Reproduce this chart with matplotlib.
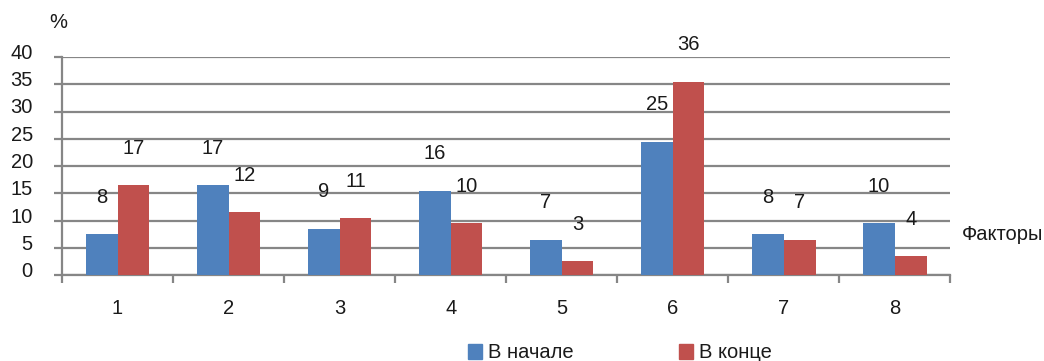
import matplotlib
matplotlib.use("Agg")
import matplotlib.pyplot as plt
import matplotlib.transforms as mtransforms
from matplotlib.patches import Patch
import numpy as np

plt.rcParams['font.family'] = ['Liberation Sans', 'DejaVu Sans']

factors = ['1', '2', '3', '4', '5', '6', '7', '8']
start_vals = [7.5, 16.5, 8.5, 15.5, 6.5, 24.5, 7.5, 9.5]
end_vals = [16.5, 11.5, 10.5, 9.5, 2.5, 35.5, 6.5, 3.5]
start_labels = ['8', '17', '9', '16', '7', '25', '8', '10']
end_labels = ['17', '12', '11', '10', '3', '36', '7', '4']
y_ticks = [0, 5, 10, 15, 20, 25, 30, 35, 40]

blue = '#4f81bd'
red = '#c0504d'
grid_col = '#868686'
txt_col = '#1a1a1a'
fs = 14.5

fig = plt.figure(figsize=(10.44, 3.61), dpi=100)
ax = fig.add_axes([0.0594, 0.238, 0.851, 0.604])

x = np.arange(len(factors))
w = 0.285
b1 = ax.bar(x - w / 2, start_vals, w, color=blue, zorder=3)
b2 = ax.bar(x + w / 2, end_vals, w, color=red, zorder=3)

# value labels float well above each bar
for bars, labs in ((b1, start_labels), (b2, end_labels)):
    for r, lab in zip(bars, labs):
        ax.annotate(lab, (r.get_x() + r.get_width() / 2, r.get_height()),
                    xytext=(0, 26.5), textcoords='offset points',
                    ha='center', va='center', fontsize=fs, color=txt_col)

ax.set_xlim(-0.5, len(factors) - 0.5)
ax.set_ylim(0, 40)
ax.set_yticks(y_ticks)
ax.set_yticklabels([str(t) for t in y_ticks])
ax.yaxis.grid(True, color=grid_col, linewidth=1.6, zorder=0)
ax.set_axisbelow(True)

ax.set_xticks(x)
ax.set_xticklabels(factors)
ax.set_xticks(np.arange(len(factors) + 1) - 0.5, minor=True)
ax.tick_params(axis='x', which='major', length=0, pad=17, labelsize=fs, labelcolor=txt_col)
ax.tick_params(axis='x', which='minor', length=6, width=1.6, color=grid_col, direction='out')
ax.tick_params(axis='y', length=6, width=1.6, color=grid_col, pad=15, labelsize=fs, labelcolor=txt_col)

# y labels sit a little above their gridlines
shift = mtransforms.ScaledTranslation(0, 4 / 72, fig.dpi_scale_trans)
for lab in ax.get_yticklabels():
    lab.set_transform(lab.get_transform() + shift)

for s in ('top', 'right'):
    ax.spines[s].set_visible(False)
for s in ('left', 'bottom'):
    ax.spines[s].set_color(grid_col)
    ax.spines[s].set_linewidth(1.6)

fig.text(58 / 1044, 1 - 23 / 361, '%', ha='center', va='center', fontsize=fs, color=txt_col)
fig.text(1043 / 1044, 1 - 234 / 361, 'Факторы', ha='right', va='center', fontsize=fs, color=txt_col)

handles = [Patch(color=blue, label='В начале'), Patch(color=red, label='В конце')]
fig.legend(handles=handles, loc='center', bbox_to_anchor=(620 / 1044, 1 - 353 / 361),
           ncol=2, frameon=False, fontsize=fs, handlelength=0.7, handleheight=0.7,
           handletextpad=0.3, columnspacing=5.2, labelcolor=txt_col)

fig.savefig('out.png', dpi=100)
